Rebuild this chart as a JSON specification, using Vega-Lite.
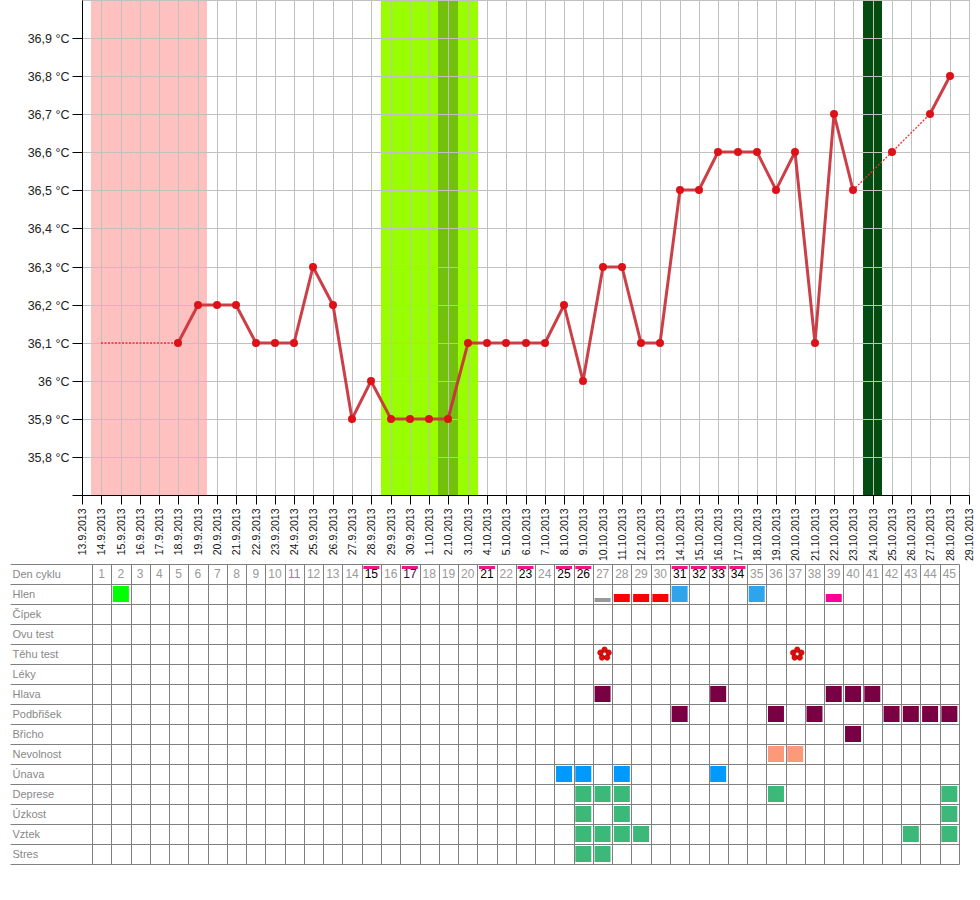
{
"$schema":"https://vega.github.io/schema/vega-lite/v6.json",
"padding":{"left":9,"top":-1,"right":0,"bottom":0},
"background":"white",
"spacing":-3,
"resolve":{"scale":{"color":"independent"}},
"config":{"font":"Liberation Sans","view":{"stroke":null}},
"datasets":{
"temps":[
{"date":"2013-09-18T00:00:00Z","temp":36.1,"run":1},{"date":"2013-09-19T00:00:00Z","temp":36.2,"run":1},{"date":"2013-09-20T00:00:00Z","temp":36.2,"run":1},{"date":"2013-09-21T00:00:00Z","temp":36.2,"run":1},{"date":"2013-09-22T00:00:00Z","temp":36.1,"run":1},{"date":"2013-09-23T00:00:00Z","temp":36.1,"run":1},{"date":"2013-09-24T00:00:00Z","temp":36.1,"run":1},{"date":"2013-09-25T00:00:00Z","temp":36.3,"run":1},{"date":"2013-09-26T00:00:00Z","temp":36.2,"run":1},{"date":"2013-09-27T00:00:00Z","temp":35.9,"run":1},{"date":"2013-09-28T00:00:00Z","temp":36.0,"run":1},{"date":"2013-09-29T00:00:00Z","temp":35.9,"run":1},{"date":"2013-09-30T00:00:00Z","temp":35.9,"run":1},{"date":"2013-10-01T00:00:00Z","temp":35.9,"run":1},{"date":"2013-10-02T00:00:00Z","temp":35.9,"run":1},{"date":"2013-10-03T00:00:00Z","temp":36.1,"run":1},{"date":"2013-10-04T00:00:00Z","temp":36.1,"run":1},{"date":"2013-10-05T00:00:00Z","temp":36.1,"run":1},{"date":"2013-10-06T00:00:00Z","temp":36.1,"run":1},{"date":"2013-10-07T00:00:00Z","temp":36.1,"run":1},{"date":"2013-10-08T00:00:00Z","temp":36.2,"run":1},{"date":"2013-10-09T00:00:00Z","temp":36.0,"run":1},{"date":"2013-10-10T00:00:00Z","temp":36.3,"run":1},{"date":"2013-10-11T00:00:00Z","temp":36.3,"run":1},{"date":"2013-10-12T00:00:00Z","temp":36.1,"run":1},{"date":"2013-10-13T00:00:00Z","temp":36.1,"run":1},{"date":"2013-10-14T00:00:00Z","temp":36.5,"run":1},{"date":"2013-10-15T00:00:00Z","temp":36.5,"run":1},{"date":"2013-10-16T00:00:00Z","temp":36.6,"run":1},{"date":"2013-10-17T00:00:00Z","temp":36.6,"run":1},{"date":"2013-10-18T00:00:00Z","temp":36.6,"run":1},{"date":"2013-10-19T00:00:00Z","temp":36.5,"run":1},{"date":"2013-10-20T00:00:00Z","temp":36.6,"run":1},{"date":"2013-10-21T00:00:00Z","temp":36.1,"run":1},{"date":"2013-10-22T00:00:00Z","temp":36.7,"run":1},{"date":"2013-10-23T00:00:00Z","temp":36.5,"run":1},{"date":"2013-10-25T00:00:00Z","temp":36.6,"run":2},{"date":"2013-10-27T00:00:00Z","temp":36.7,"run":3},{"date":"2013-10-28T00:00:00Z","temp":36.8,"run":3}
],
"gaps":[
{"date":"2013-09-14T00:00:00Z","temp":36.1,"gap":"a"},{"date":"2013-09-18T00:00:00Z","temp":36.1,"gap":"a"},{"date":"2013-10-23T00:00:00Z","temp":36.5,"gap":"b"},{"date":"2013-10-25T00:00:00Z","temp":36.6,"gap":"b"},{"date":"2013-10-27T00:00:00Z","temp":36.7,"gap":"b"}
],
"bands":[
{"start":"2013-09-13T11:00:00Z","end":"2013-09-19T11:00:00Z","phase":"menstruace"},
{"start":"2013-09-28T12:30:00Z","end":"2013-10-03T13:00:00Z","phase":"plodne dny"},
{"start":"2013-10-01T11:00:00Z","end":"2013-10-02T12:00:00Z","phase":"ovulace"},
{"start":"2013-10-23T12:00:00Z","end":"2013-10-24T12:00:00Z","phase":"pozdni"}
],
"gridDays":[
{"d":"2013-09-14T00:00:00Z"},{"d":"2013-09-15T00:00:00Z"},{"d":"2013-09-16T00:00:00Z"},{"d":"2013-09-17T00:00:00Z"},{"d":"2013-09-18T00:00:00Z"},{"d":"2013-09-19T00:00:00Z"},{"d":"2013-09-20T00:00:00Z"},{"d":"2013-09-21T00:00:00Z"},{"d":"2013-09-22T00:00:00Z"},{"d":"2013-09-23T00:00:00Z"},{"d":"2013-09-24T00:00:00Z"},{"d":"2013-09-25T00:00:00Z"},{"d":"2013-09-26T00:00:00Z"},{"d":"2013-09-27T00:00:00Z"},{"d":"2013-09-28T00:00:00Z"},{"d":"2013-09-29T00:00:00Z"},{"d":"2013-09-30T00:00:00Z"},{"d":"2013-10-01T00:00:00Z"},{"d":"2013-10-02T00:00:00Z"},{"d":"2013-10-03T00:00:00Z"},{"d":"2013-10-04T00:00:00Z"},{"d":"2013-10-05T00:00:00Z"},{"d":"2013-10-06T00:00:00Z"},{"d":"2013-10-07T00:00:00Z"},{"d":"2013-10-08T00:00:00Z"},{"d":"2013-10-09T00:00:00Z"},{"d":"2013-10-10T00:00:00Z"},{"d":"2013-10-11T00:00:00Z"},{"d":"2013-10-12T00:00:00Z"},{"d":"2013-10-13T00:00:00Z"},{"d":"2013-10-14T00:00:00Z"},{"d":"2013-10-15T00:00:00Z"},{"d":"2013-10-16T00:00:00Z"},{"d":"2013-10-17T00:00:00Z"},{"d":"2013-10-18T00:00:00Z"},{"d":"2013-10-19T00:00:00Z"},{"d":"2013-10-20T00:00:00Z"},{"d":"2013-10-21T00:00:00Z"},{"d":"2013-10-22T00:00:00Z"},{"d":"2013-10-23T00:00:00Z"},{"d":"2013-10-24T00:00:00Z"},{"d":"2013-10-25T00:00:00Z"},{"d":"2013-10-26T00:00:00Z"},{"d":"2013-10-27T00:00:00Z"},{"d":"2013-10-28T00:00:00Z"},{"d":"2013-10-29T00:00:00Z"}
],
"gridTemps":[{"t":35.8},{"t":35.9},{"t":36.0},{"t":36.1},{"t":36.2},{"t":36.3},{"t":36.4},{"t":36.5},{"t":36.6},{"t":36.7},{"t":36.8},{"t":36.9},{"t":37.0}],
"cycle":[
{"day":1,"tone":"bezny"},{"day":2,"tone":"bezny"},{"day":3,"tone":"bezny"},{"day":4,"tone":"bezny"},{"day":5,"tone":"bezny"},{"day":6,"tone":"bezny"},{"day":7,"tone":"bezny"},{"day":8,"tone":"bezny"},{"day":9,"tone":"bezny"},{"day":10,"tone":"bezny"},{"day":11,"tone":"fialovy"},{"day":12,"tone":"bezny"},{"day":13,"tone":"bezny"},{"day":14,"tone":"bezny"},{"day":15,"tone":"oznaceny"},{"day":16,"tone":"bezny"},{"day":17,"tone":"tmavy"},{"day":18,"tone":"bezny"},{"day":19,"tone":"bezny"},{"day":20,"tone":"bezny"},{"day":21,"tone":"oznaceny"},{"day":22,"tone":"bezny"},{"day":23,"tone":"oznaceny"},{"day":24,"tone":"bezny"},{"day":25,"tone":"oznaceny"},{"day":26,"tone":"oznaceny"},{"day":27,"tone":"bezny"},{"day":28,"tone":"bezny"},{"day":29,"tone":"bezny"},{"day":30,"tone":"bezny"},{"day":31,"tone":"oznaceny"},{"day":32,"tone":"oznaceny"},{"day":33,"tone":"oznaceny"},{"day":34,"tone":"oznaceny"},{"day":35,"tone":"bezny"},{"day":36,"tone":"bezny"},{"day":37,"tone":"bezny"},{"day":38,"tone":"bezny"},{"day":39,"tone":"bezny"},{"day":40,"tone":"bezny"},{"day":41,"tone":"bezny"},{"day":42,"tone":"bezny"},{"day":43,"tone":"bezny"},{"day":44,"tone":"bezny"},{"day":45,"tone":"bezny"}
],
"flags":[{"day":15},{"day":17},{"day":21},{"day":23},{"day":25},{"day":26},{"day":31},{"day":32},{"day":33},{"day":34}],
"full":[
{"row":"Hlen","day":2,"kind":"zeleny"},{"row":"Hlen","day":31,"kind":"modry"},{"row":"Hlen","day":35,"kind":"modry"},
{"row":"Hlava","day":27,"kind":"bolest"},{"row":"Hlava","day":33,"kind":"bolest"},{"row":"Hlava","day":39,"kind":"bolest"},{"row":"Hlava","day":40,"kind":"bolest"},{"row":"Hlava","day":41,"kind":"bolest"},
{"row":"Podbřišek","day":31,"kind":"bolest"},{"row":"Podbřišek","day":36,"kind":"bolest"},{"row":"Podbřišek","day":38,"kind":"bolest"},{"row":"Podbřišek","day":42,"kind":"bolest"},{"row":"Podbřišek","day":43,"kind":"bolest"},{"row":"Podbřišek","day":44,"kind":"bolest"},{"row":"Podbřišek","day":45,"kind":"bolest"},
{"row":"Břicho","day":40,"kind":"bolest"},
{"row":"Nevolnost","day":36,"kind":"nevolnost"},{"row":"Nevolnost","day":37,"kind":"nevolnost"},
{"row":"Únava","day":25,"kind":"unava"},{"row":"Únava","day":26,"kind":"unava"},{"row":"Únava","day":28,"kind":"unava"},{"row":"Únava","day":33,"kind":"unava"},
{"row":"Deprese","day":26,"kind":"nalada"},{"row":"Deprese","day":27,"kind":"nalada"},{"row":"Deprese","day":28,"kind":"nalada"},{"row":"Deprese","day":36,"kind":"nalada"},{"row":"Deprese","day":45,"kind":"nalada"},
{"row":"Úzkost","day":26,"kind":"nalada"},{"row":"Úzkost","day":28,"kind":"nalada"},{"row":"Úzkost","day":45,"kind":"nalada"},
{"row":"Vztek","day":26,"kind":"nalada"},{"row":"Vztek","day":27,"kind":"nalada"},{"row":"Vztek","day":28,"kind":"nalada"},{"row":"Vztek","day":29,"kind":"nalada"},{"row":"Vztek","day":43,"kind":"nalada"},{"row":"Vztek","day":45,"kind":"nalada"},
{"row":"Stres","day":26,"kind":"nalada"},{"row":"Stres","day":27,"kind":"nalada"}
],
"half":[{"row":"Hlen","day":28,"kind":"cerveny"},{"row":"Hlen","day":29,"kind":"cerveny"},{"row":"Hlen","day":30,"kind":"cerveny"},{"row":"Hlen","day":39,"kind":"ruzovy"}],
"thin":[{"row":"Hlen","day":27}],
"tests":[{"row":"Těhu test","day":27},{"row":"Těhu test","day":37}]
},
"vconcat":[
{
"width":887,"height":495,
"encoding":{},
"layer":[
{"data":{"name":"bands"},"mark":{"type":"rect"},
 "encoding":{
  "x":{"field":"start","type":"temporal","scale":{"type":"utc","domain":["2013-09-13T00:00:00Z","2013-10-29T00:00:00Z"],"round":true},
   "axis":{"title":null,"orient":"bottom","zindex":1,"grid":false,"tickCount":{"interval":"day","step":1},"format":"%-d.%-m.%Y","labelAngle":270,"labelAlign":"right","labelBaseline":"middle","labelFontSize":10.5,"labelColor":"#111","labelPadding":4,"labelOverlap":false,"labelFlush":false,"labelBound":false,"tickSize":9,"tickColor":"#000","domainColor":"#000"}},
  "x2":{"field":"end"},
  "color":{"field":"phase","type":"nominal","legend":null,"scale":{"domain":["menstruace","plodne dny","ovulace","pozdni"],"range":["#ffc0c0","#99ff00","#73c00d","#034d10"]}},
  "y":{"datum":35.7,"type":"quantitative","scale":{"domain":[35.7,37.0],"nice":false,"zero":false,"round":true},
   "axis":{"title":null,"zindex":1,"grid":false,"values":[35.7,35.8,35.9,36,36.1,36.2,36.3,36.4,36.5,36.6,36.7,36.8,36.9],"labelExpr":"datum.value<35.75?'':replace(toString(round(datum.value*10)/10),'.',',')+' °C'","labelFontSize":12.5,"labelColor":"#222","labelPadding":3,"tickSize":10,"tickColor":"#000","domainColor":"#000"}},
  "y2":{"datum":37.0}
 }},
{"data":{"name":"gridDays"},"mark":{"type":"rule","color":"#c0c0c0","strokeWidth":1,"xOffset":0.5},
 "encoding":{"x":{"field":"d","type":"temporal"}}},
{"data":{"name":"gridTemps"},"mark":{"type":"rule","color":"#c0c0c0","strokeWidth":1,"yOffset":0.5},
 "encoding":{"y":{"field":"t","type":"quantitative"}}},
{"data":{"name":"gaps"},"mark":{"type":"line","color":"#e83030","strokeWidth":1.3,"strokeDash":[2,1.5]},
 "encoding":{"x":{"field":"date","type":"temporal"},"y":{"field":"temp","type":"quantitative"},"detail":{"field":"gap"}}},
{"data":{"name":"temps"},"mark":{"type":"line","color":"#c8353c","strokeWidth":3,"strokeOpacity":0.95},
 "encoding":{"x":{"field":"date","type":"temporal"},"y":{"field":"temp","type":"quantitative"},"detail":{"field":"run"}}},
{"data":{"name":"temps"},"mark":{"type":"point","filled":true,"shape":"circle","size":64,"color":"#dd1118","opacity":1},
 "encoding":{"x":{"field":"date","type":"temporal"},"y":{"field":"temp","type":"quantitative"}}}
]
},
{
"width":877,"height":300,
"resolve":{"scale":{"color":"independent"}},
"encoding":{
 "x":{"field":"day","type":"ordinal","scale":{"domain":[1,2,3,4,5,6,7,8,9,10,11,12,13,14,15,16,17,18,19,20,21,22,23,24,25,26,27,28,29,30,31,32,33,34,35,36,37,38,39,40,41,42,43,44,45],"paddingInner":0,"paddingOuter":0,"range":[10,877]},
  "axis":{"title":null,"labels":false,"ticks":false,"domain":false,"grid":true,"tickBand":"extent","gridColor":"#808080","gridOpacity":1,"orient":"bottom"}},
 "y":{"field":"row","type":"nominal","scale":{"domain":["Den cyklu","Hlen","Čípek","Ovu test","Těhu test","Léky","Hlava","Podbřišek","Břicho","Nevolnost","Únava","Deprese","Úzkost","Vztek","Stres"],"paddingInner":0,"paddingOuter":0},
  "axis":{"title":null,"domain":false,"offset":-10,"grid":true,"tickBand":"extent","gridColor":"#808080","gridOpacity":1,"tickColor":"#808080","tickSize":82,"labelAlign":"left","labelPadding":-2,"labelFontSize":11,"labelColor":"#888888"}}
},
"layer":[
{"data":{"name":"cycle"},"transform":[{"calculate":"'Den cyklu'","as":"row"}],"mark":{"type":"text","fontSize":12,"baseline":"middle","align":"center"},
 "encoding":{"text":{"field":"day","type":"ordinal"},"color":{"field":"tone","type":"nominal","legend":null,"scale":{"domain":["bezny","oznaceny","tmavy","fialovy"],"range":["#999999","#000000","#3d0a3d","#a080a0"]}}}},
{"data":{"name":"flags"},"transform":[{"calculate":"'Den cyklu'","as":"row"}],"mark":{"type":"rect","width":16,"height":3,"yOffset":-6.5,"color":"#f0148c"},"encoding":{}},
{"data":{"name":"full"},"mark":{"type":"rect","width":16,"height":16},
 "encoding":{"color":{"field":"kind","type":"nominal","legend":null,"scale":{"domain":["zeleny","modry","bolest","nevolnost","unava","nalada"],"range":["#00ff00","#2fa4ea","#7a0044","#fa9a78","#0099ff","#3cb878"]}}}},
{"data":{"name":"half"},"mark":{"type":"rect","width":16,"height":8,"yOffset":4},
 "encoding":{"color":{"field":"kind","type":"nominal","legend":null,"scale":{"domain":["cerveny","ruzovy"],"range":["#ff0000","#ff0099"]}}}},
{"data":{"name":"thin"},"mark":{"type":"rect","width":16,"height":4,"yOffset":6,"color":"#999999"},"encoding":{}},
{"data":{"name":"tests"},"mark":{"type":"point","filled":true,"size":210,"xOffset":2,"color":"#e00c0c","stroke":"#7a1010","strokeWidth":0.3,"opacity":1,"shape":"M -0.4 -0.6 a 0.4 0.4 0 1 0 0.8 0 a 0.4 0.4 0 1 0 -0.8 0 Z M 0.17 -0.185 a 0.4 0.4 0 1 0 0.8 0 a 0.4 0.4 0 1 0 -0.8 0 Z M -0.047 0.485 a 0.4 0.4 0 1 0 0.8 0 a 0.4 0.4 0 1 0 -0.8 0 Z M -0.753 0.485 a 0.4 0.4 0 1 0 0.8 0 a 0.4 0.4 0 1 0 -0.8 0 Z M -0.97 -0.185 a 0.4 0.4 0 1 0 0.8 0 a 0.4 0.4 0 1 0 -0.8 0 Z"},"encoding":{}}
]
}
]
}
